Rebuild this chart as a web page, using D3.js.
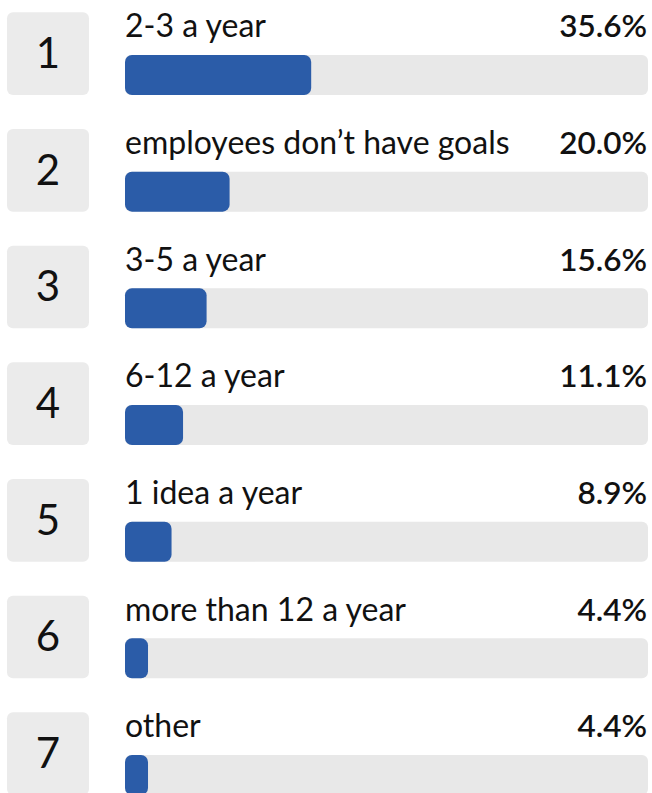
<!DOCTYPE html>
<html>
<head>
<meta charset="utf-8">
<script src="https://cdn.jsdelivr.net/npm/d3@7"></script>
<style>
  html, body { margin: 0; padding: 0; background: #ffffff; }
  svg { display: block; }
</style>
</head>
<body>
<svg id="chart" width="652" height="793"></svg>
<script>
// Survey answers, ranked
const categories = [
  "2-3 a year",
  "employees don\u2019t have goals",
  "3-5 a year",
  "6-12 a year",
  "1 idea a year",
  "more than 12 a year",
  "other"
];
const values = [35.6, 20.0, 15.6, 11.1, 8.9, 4.4, 4.4];
const ranks = [1, 2, 3, 4, 5, 6, 7];

const svg = d3.select("#chart");
const font = "Lato, 'Noto Sans', sans-serif";

const trackX = 125, trackW = 523;
const rowTop = 12.3, rowStep = 116.67;

const x = d3.scaleLinear().domain([0, 100]).range([0, trackW]);
const y = d3.scaleLinear().domain([0, 1]).range([rowTop, rowTop + rowStep]);

const rows = svg.selectAll("g.row")
  .data(categories.map((c, i) => ({ cat: c, val: values[i], rank: ranks[i], i })))
  .join("g")
  .attr("class", "row")
  .attr("transform", d => `translate(0,${y(d.i)})`);

// rank tile
rows.append("rect")
  .attr("x", 7).attr("y", 0)
  .attr("width", 82).attr("height", 82.7)
  .attr("rx", 6)
  .attr("fill", "#ebebeb");

rows.append("text")
  .attr("x", 48).attr("y", 55.7)
  .attr("text-anchor", "middle")
  .attr("font-family", font)
  .attr("font-size", 42)
  .attr("fill", "#111")
  .text(d => d.rank);

// category label
rows.append("text")
  .attr("x", trackX).attr("y", 25)
  .attr("font-family", font)
  .attr("font-size", 32)
  .attr("fill", "#111")
  .text(d => d.cat);

// value label
rows.append("text")
  .attr("x", 647).attr("y", 25)
  .attr("text-anchor", "end")
  .attr("font-family", font)
  .attr("font-weight", 600)
  .attr("font-size", 31.5)
  .attr("fill", "#111")
  .text(d => d.val.toFixed(1) + "%");

// track
rows.append("rect")
  .attr("x", trackX).attr("y", 42.7)
  .attr("width", x(100)).attr("height", 40)
  .attr("rx", 6)
  .attr("fill", "#e8e8e8");

// value bar
rows.append("rect")
  .attr("x", trackX).attr("y", 42.7)
  .attr("width", d => x(d.val)).attr("height", 40)
  .attr("rx", 7)
  .attr("fill", "#2b5ca8");
</script>
</body>
</html>
